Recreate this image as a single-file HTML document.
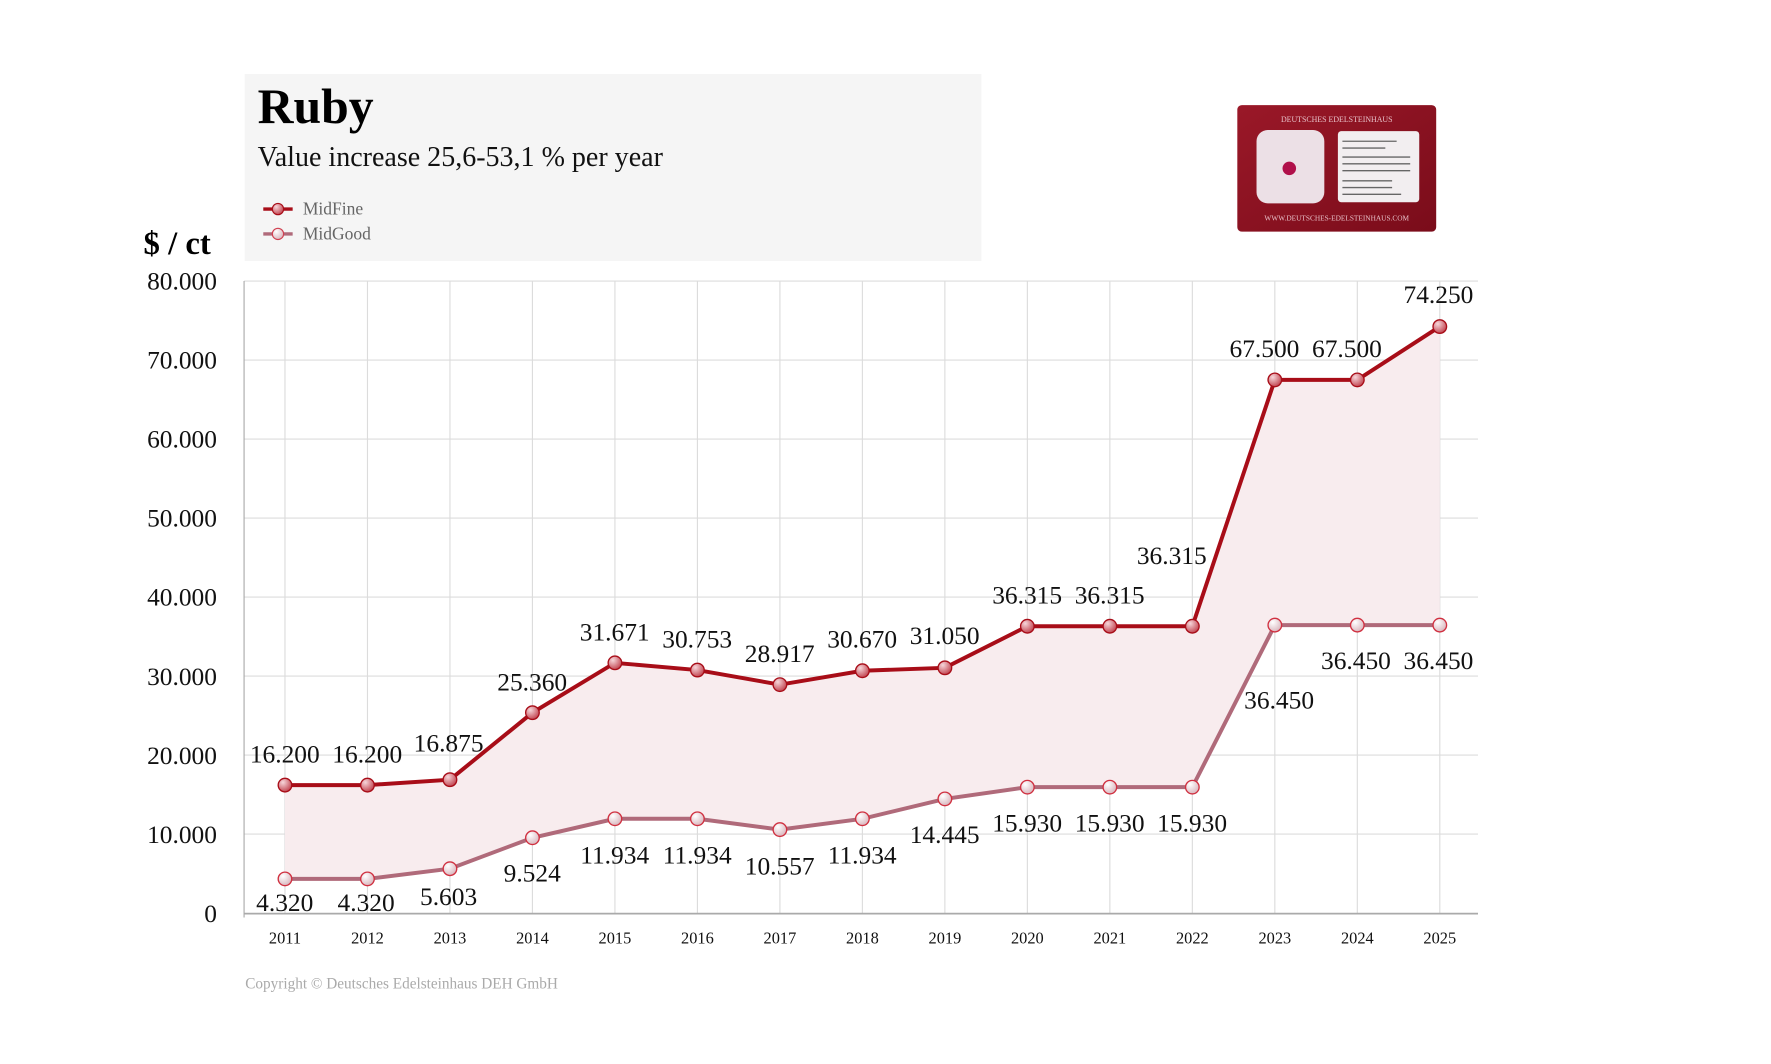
<!DOCTYPE html>
<html><head><meta charset="utf-8"><style>
html,body{margin:0;padding:0;background:#fff;}
svg{display:block;}
text{font-family:"Liberation Serif","DejaVu Serif",serif;}
</style></head><body>
<svg width="1771" height="1064" viewBox="0 0 1567.3 941.6" xmlns="http://www.w3.org/2000/svg">
<defs>
<radialGradient id="gf" cx="35%" cy="30%" r="75%"><stop offset="0" stop-color="#f6d6da"/><stop offset="1" stop-color="#c0404c"/></radialGradient>
<radialGradient id="gg" cx="35%" cy="30%" r="75%"><stop offset="0" stop-color="#ffffff"/><stop offset="1" stop-color="#d8b4bc"/></radialGradient>
<linearGradient id="card" x1="0" y1="0" x2="1" y2="1"><stop offset="0" stop-color="#9a1828"/><stop offset="1" stop-color="#7a0c1a"/></linearGradient>
</defs>
<rect x="216.5" y="65.5" width="652" height="165.5" fill="#f5f5f5"/>
<text x="228" y="109" font-size="44" font-weight="bold" fill="#000">Ruby</text>
<text x="228" y="147" font-size="24.8" fill="#111">Value increase 25,6-53,1 % per year</text>
<line x1="233" y1="185" x2="259" y2="185" stroke="#a80d18" stroke-width="3"/><circle cx="246" cy="185" r="5" fill="url(#gf)" stroke="#a80d18"/>
<text x="268" y="190" font-size="15.5" fill="#666">MidFine</text>
<line x1="233" y1="207" x2="259" y2="207" stroke="#b06a7a" stroke-width="3"/><circle cx="246" cy="207" r="5" fill="url(#gg)" stroke="#d04050"/>
<text x="268" y="212" font-size="15.5" fill="#666">MidGood</text>
<text x="127" y="225" font-size="29" font-weight="bold" fill="#000">$ / ct</text>
<!-- card -->
<rect x="1095" y="93" width="176" height="112" rx="4" fill="url(#card)"/>
<text x="1183" y="108" font-size="7" fill="#e8c0c8" text-anchor="middle" font-family="Liberation Sans,sans-serif">DEUTSCHES EDELSTEINHAUS</text>
<rect x="1112" y="115" width="60" height="65" rx="10" fill="#ece0e6"/>
<circle cx="1141" cy="149" r="6" fill="#b0104a"/>
<rect x="1184" y="116" width="72" height="63" rx="3" fill="#f2eef0"/>
<g stroke="#666" stroke-width="1.2"><line x1="1188" y1="125" x2="1236" y2="125"/><line x1="1188" y1="131" x2="1226" y2="131"/><line x1="1188" y1="139" x2="1248" y2="139"/><line x1="1188" y1="145" x2="1248" y2="145"/><line x1="1188" y1="151" x2="1248" y2="151"/><line x1="1188" y1="160" x2="1232" y2="160"/><line x1="1188" y1="166" x2="1232" y2="166"/><line x1="1188" y1="172" x2="1240" y2="172"/></g>
<text x="1183" y="195" font-size="6.5" fill="#e8c0c8" text-anchor="middle" font-family="Liberation Sans,sans-serif">WWW.DEUTSCHES-EDELSTEINHAUS.COM</text>
<!-- grid -->
<g stroke="#dcdcdc" stroke-width="1">
<line x1="216" y1="248.7" x2="1308" y2="248.7"/><line x1="216" y1="318.6" x2="1308" y2="318.6"/><line x1="216" y1="388.5" x2="1308" y2="388.5"/><line x1="216" y1="458.5" x2="1308" y2="458.5"/><line x1="216" y1="528.4" x2="1308" y2="528.4"/><line x1="216" y1="598.3" x2="1308" y2="598.3"/><line x1="216" y1="668.2" x2="1308" y2="668.2"/><line x1="216" y1="738.1" x2="1308" y2="738.1"/>
<line x1="252.2" y1="248.7" x2="252.2" y2="808"/><line x1="325.2" y1="248.7" x2="325.2" y2="808"/><line x1="398.2" y1="248.7" x2="398.2" y2="808"/><line x1="471.2" y1="248.7" x2="471.2" y2="808"/><line x1="544.2" y1="248.7" x2="544.2" y2="808"/><line x1="617.2" y1="248.7" x2="617.2" y2="808"/><line x1="690.2" y1="248.7" x2="690.2" y2="808"/><line x1="763.2" y1="248.7" x2="763.2" y2="808"/><line x1="836.2" y1="248.7" x2="836.2" y2="808"/><line x1="909.2" y1="248.7" x2="909.2" y2="808"/><line x1="982.2" y1="248.7" x2="982.2" y2="808"/><line x1="1055.2" y1="248.7" x2="1055.2" y2="808"/><line x1="1128.2" y1="248.7" x2="1128.2" y2="808"/><line x1="1201.2" y1="248.7" x2="1201.2" y2="808"/><line x1="1274.2" y1="248.7" x2="1274.2" y2="808"/>
</g>
<line x1="216" y1="248.7" x2="216" y2="812" stroke="#aaa"/>
<line x1="216" y1="808.5" x2="1308" y2="808.5" stroke="#aaa" stroke-width="1.5"/>
<g font-size="22.5" fill="#111" text-anchor="end">
<text x="192" y="256">80.000</text><text x="192" y="326">70.000</text><text x="192" y="396">60.000</text><text x="192" y="466">50.000</text><text x="192" y="536">40.000</text><text x="192" y="606">30.000</text><text x="192" y="676">20.000</text><text x="192" y="746">10.000</text><text x="192" y="816">0</text>
</g>
<g font-size="14.5" fill="#111" text-anchor="middle">
<text x="252.2" y="835">2011</text><text x="325.2" y="835">2012</text><text x="398.2" y="835">2013</text><text x="471.2" y="835">2014</text><text x="544.2" y="835">2015</text><text x="617.2" y="835">2016</text><text x="690.2" y="835">2017</text><text x="763.2" y="835">2018</text><text x="836.2" y="835">2019</text><text x="909.2" y="835">2020</text><text x="982.2" y="835">2021</text><text x="1055.2" y="835">2022</text><text x="1128.2" y="835">2023</text><text x="1201.2" y="835">2024</text><text x="1274.2" y="835">2025</text>
</g>
<text x="217" y="875" font-size="13.5" fill="#aaa">Copyright © Deutsches Edelsteinhaus DEH GmbH</text>
<!-- area -->
<polygon fill="#f8ecee" points="252.2,694.8 325.2,694.8 398.2,690 471.2,630.7 544.2,586.6 617.2,593 690.2,605.9 763.2,593.6 836.2,591 909.2,554.2 982.2,554.2 1055.2,554.2 1128.2,336.2 1201.2,336.2 1274.2,289 1274.2,553.2 1201.2,553.2 1128.2,553.2 1055.2,696.6 982.2,696.6 909.2,696.6 836.2,707 763.2,724.6 690.2,734.2 617.2,724.6 544.2,724.6 471.2,741.4 398.2,768.8 325.2,777.8 252.2,777.8"/>
<polyline fill="none" stroke="#b06a7a" stroke-width="3.5" points="252.2,777.8 325.2,777.8 398.2,768.8 471.2,741.4 544.2,724.6 617.2,724.6 690.2,734.2 763.2,724.6 836.2,707 909.2,696.6 982.2,696.6 1055.2,696.6 1128.2,553.2 1201.2,553.2 1274.2,553.2"/>
<polyline fill="none" stroke="#a80d18" stroke-width="3.5" points="252.2,694.8 325.2,694.8 398.2,690 471.2,630.7 544.2,586.6 617.2,593 690.2,605.9 763.2,593.6 836.2,591 909.2,554.2 982.2,554.2 1055.2,554.2 1128.2,336.2 1201.2,336.2 1274.2,289"/>
<g fill="url(#gg)" stroke="#d03040" stroke-width="1.2">
<circle cx="252.2" cy="777.8" r="6"/><circle cx="325.2" cy="777.8" r="6"/><circle cx="398.2" cy="768.8" r="6"/><circle cx="471.2" cy="741.4" r="6"/><circle cx="544.2" cy="724.6" r="6"/><circle cx="617.2" cy="724.6" r="6"/><circle cx="690.2" cy="734.2" r="6"/><circle cx="763.2" cy="724.6" r="6"/><circle cx="836.2" cy="707" r="6"/><circle cx="909.2" cy="696.6" r="6"/><circle cx="982.2" cy="696.6" r="6"/><circle cx="1055.2" cy="696.6" r="6"/><circle cx="1128.2" cy="553.2" r="6"/><circle cx="1201.2" cy="553.2" r="6"/><circle cx="1274.2" cy="553.2" r="6"/>
</g>
<g fill="url(#gf)" stroke="#a80d18" stroke-width="1.2">
<circle cx="252.2" cy="694.8" r="6"/><circle cx="325.2" cy="694.8" r="6"/><circle cx="398.2" cy="690" r="6"/><circle cx="471.2" cy="630.7" r="6"/><circle cx="544.2" cy="586.6" r="6"/><circle cx="617.2" cy="593" r="6"/><circle cx="690.2" cy="605.9" r="6"/><circle cx="763.2" cy="593.6" r="6"/><circle cx="836.2" cy="591" r="6"/><circle cx="909.2" cy="554.2" r="6"/><circle cx="982.2" cy="554.2" r="6"/><circle cx="1055.2" cy="554.2" r="6"/><circle cx="1128.2" cy="336.2" r="6"/><circle cx="1201.2" cy="336.2" r="6"/><circle cx="1274.2" cy="289" r="6"/>
</g>
<g font-size="22.5" fill="#111" text-anchor="middle">
<text x="252" y="675">16.200</text><text x="325" y="675">16.200</text><text x="397" y="665">16.875</text><text x="471" y="611">25.360</text><text x="544" y="567">31.671</text><text x="617" y="573">30.753</text><text x="690" y="586">28.917</text><text x="763" y="573">30.670</text><text x="836" y="570">31.050</text><text x="909" y="534">36.315</text><text x="982" y="534">36.315</text><text x="1037" y="499">36.315</text><text x="1119" y="316">67.500</text><text x="1192" y="316">67.500</text><text x="1273" y="268">74.250</text>
<text x="252" y="806">4.320</text><text x="324" y="806">4.320</text><text x="397" y="801">5.603</text><text x="471" y="780">9.524</text><text x="544" y="764">11.934</text><text x="617" y="764">11.934</text><text x="690" y="774">10.557</text><text x="763" y="764">11.934</text><text x="836" y="746">14.445</text><text x="909" y="736">15.930</text><text x="982" y="736">15.930</text><text x="1055" y="736">15.930</text><text x="1132" y="627">36.450</text><text x="1200" y="592">36.450</text><text x="1273" y="592">36.450</text>
</g>
</svg>
</body></html>
